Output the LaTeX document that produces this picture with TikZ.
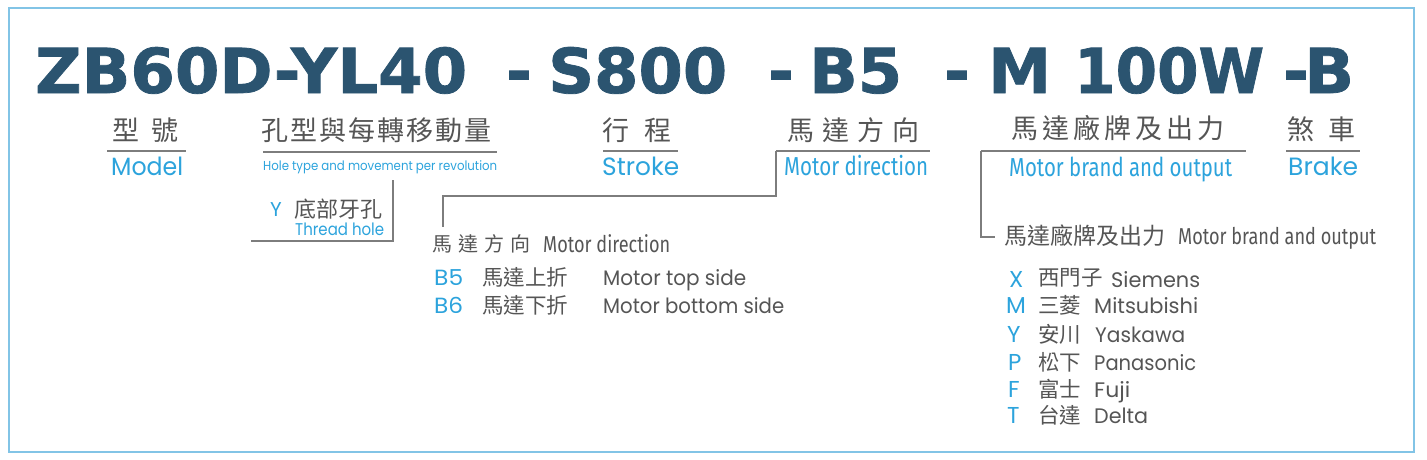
\documentclass[tikz,border=0pt]{standalone}
\usepackage{graphicx}
\usepackage{fontspec}
\newfontfamily\ttlf[FakeBold=1.2]{DejaVu Sans Bold}
\newfontfamily\geo{Poppins}
\newfontfamily\cond{Fira Sans}
\newfontfamily\cjk{Noto Sans CJK TC}
\definecolor{titleblue}{RGB}{43,84,112}
\definecolor{lblue}{RGB}{44,163,220}
\definecolor{txtgray}{RGB}{85,85,85}
\definecolor{linegray}{RGB}{125,125,125}
\definecolor{framecol}{RGB}{130,196,230}
\newcommand\fitw[2]{\resizebox{#1pt}{\height}{#2}}
\newcommand\cjkgap[1]{\hspace{#1pt}}
\tikzset{
  frame/.style={draw=framecol, line width=1.5pt},
  ttl/.style={inner sep=0, anchor=base west, text=titleblue, font=\ttlf\fontsize{62}{62}\selectfont},
  hz/.style={inner sep=0, anchor=west, text=txtgray, font=\cjk\fontsize{27}{27}\selectfont},
  hzs/.style={inner sep=0, anchor=west, text=txtgray, font=\cjk\fontsize{21.5}{22}\selectfont},
  en/.style={inner sep=0, anchor=base west, text=lblue, font=\geo\fontsize{25}{25}\selectfont},
  ens/.style={inner sep=0, anchor=base west, text=lblue, font=\geo\fontsize{13}{13}\selectfont},
  enc/.style={inner sep=0, anchor=base west, text=lblue, font=\cond\fontsize{26}{26}\selectfont},
  code/.style={inner sep=0, anchor=base west, text=lblue, font=\geo\fontsize{22}{22}\selectfont},
  gen/.style={inner sep=0, anchor=base west, text=txtgray, font=\geo\fontsize{21}{21}\selectfont},
  genc/.style={inner sep=0, anchor=base west, text=txtgray, font=\cond\fontsize{23}{23}\selectfont},
  rule/.style={draw=linegray, line width=1.1pt},
}
\begin{document}
\begin{tikzpicture}[x=1pt,y=-1pt]
\useasboundingbox (0,0) rectangle (1427,460);
\draw[frame] (9,8) rectangle (1414,452);

% title
\node[ttl] (tA) at (35,93) {\fitw{432}{ZB60D-YL40}};
\node[ttl] (d1) at (506,93) {-};
\node[ttl] (tS) at (548,93) {\fitw{179}{S800}};
\node[ttl] (d2) at (768,93) {-};
\node[ttl] (tB) at (809,93) {\fitw{93}{B5}};
\node[ttl] (d3) at (944,93) {-};
\node[ttl] (tM) at (988,93) {\fitw{63}{M}};
\node[ttl] (tW) at (1074,93) {\fitw{190}{100W}};
\node[ttl] (d4) at (1283,93) {-};
\node[ttl] (tK) at (1304,93) {\fitw{50}{B}};

% headings
\node[hz] (h1) at (112,130) {型\cjkgap{12}號};
\node[hz] (h2) at (261,130) {孔\cjkgap{2}型\cjkgap{2}與\cjkgap{2}每\cjkgap{2}轉\cjkgap{2}移\cjkgap{2}動\cjkgap{2}量};
\node[hz] (h3) at (602,130) {行\cjkgap{15}程};
\node[hz] (h4) at (787,130) {馬\cjkgap{8}達\cjkgap{8}方\cjkgap{8}向};
\node[hz] (h5) at (1011,128) {馬\cjkgap{4}達\cjkgap{4}廠\cjkgap{4}牌\cjkgap{4}及\cjkgap{4}出\cjkgap{4}力};
\node[hz] (h6) at (1287,129) {煞\cjkgap{14}車};

% underlines
\coordinate (u1a) at (107,151); \coordinate (u1b) at (186,151);
\coordinate (u2a) at (263,152); \coordinate (u2b) at (497,152);
\coordinate (u3a) at (603,151); \coordinate (u3b) at (678,151);
\coordinate (u4a) at (776,151); \coordinate (u4b) at (930,151);
\coordinate (u5a) at (981,151); \coordinate (u5b) at (1246,151);
\coordinate (u6a) at (1286,151); \coordinate (u6b) at (1360,151);
\draw[rule] (u1a) -- (u1b);
\draw[rule] (u2a) -- (u2b);
\draw[rule] (u3a) -- (u3b);
\draw[rule] (u4a) -- (u4b);
\draw[rule] (u5a) -- (u5b);
\draw[rule] (u6a) -- (u6b);

% english labels
\node[en] (e1) at (111,175) {\fitw{72}{Model}};
\node[ens] (e2) at (263,170) {\fitw{234}{Hole type and movement per revolution}};
\node[en] (e3) at (602,175) {\fitw{77}{Stroke}};
\node[enc] (e4) at (784,175) {\fitw{144}{Motor direction}};
\node[enc] (e5) at (1009,176) {\fitw{223}{Motor brand and output}};
\node[en] (e6) at (1288,175) {\fitw{70}{Brake}};

% thread hole
\node[code, font=\geo\fontsize{20}{20}\selectfont] (yc) at (270,216) {Y};
\node[hzs, font=\cjk\fontsize{22}{22}\selectfont] (yz) at (294,209) {底部牙孔};
\node[en, font=\geo\fontsize{17}{17}\selectfont] (ye) at (295,235) {\fitw{89}{Thread hole}};
\coordinate (b1a) at (393,180); \coordinate (b1b) at (251,241);
\draw[rule] (b1a) |- (b1b);

% motor direction bracket
\coordinate (b2a) at (443,227);
\coordinate (b2m) at (443,196);
\draw[rule] (u4a) |- (b2m) -- (b2a);

\node[hzs, font=\cjk\fontsize{20}{20}\selectfont] (md) at (432,244) {馬\cjkgap{6}達\cjkgap{6}方\cjkgap{6}向};
\node[genc] (mde) at (543,252) {\fitw{127}{Motor direction}};
\node[code] (b5) at (434,285) {\fitw{29}{B5}};
\node[hzs] (b5z) at (482,277) {馬達上折};
\node[gen] (b5e) at (603,285) {\fitw{143}{Motor top side}};
\node[code] (b6) at (434,313) {\fitw{29}{B6}};
\node[hzs] (b6z) at (482,305) {馬達下折};
\node[gen] (b6e) at (603,313) {\fitw{181}{Motor bottom side}};

% motor brand bracket
\coordinate (b3a) at (995,237);
\draw[rule] (u5a) |- (b3a);
\node[hzs, font=\cjk\fontsize{23}{23}\selectfont] (mb) at (1004,236) {馬達廠牌及出力};
\node[genc] (mbe) at (1178,244) {\fitw{198}{Motor brand and output}};

\node[code, font=\geo\fontsize{23}{23}\selectfont] (cx) at (1009,287) {X};
\node[hzs] (zx) at (1038,278) {西門子};
\node[gen] (ex) at (1111,287) {\fitw{89}{Siemens}};
\node[code, font=\geo\fontsize{23}{23}\selectfont] (cm) at (1006,313) {M};
\node[hzs] (zm) at (1038,305) {三菱};
\node[gen] (em) at (1094,313) {\fitw{104}{Mitsubishi}};
\node[code, font=\geo\fontsize{23}{23}\selectfont] (cy) at (1007,342) {Y};
\node[hzs] (zy) at (1038,334) {安川};
\node[gen] (ey) at (1095,342) {\fitw{90}{Yaskawa}};
\node[code, font=\geo\fontsize{23}{23}\selectfont] (cp) at (1008,370) {P};
\node[hzs] (zp) at (1038,362) {松下};
\node[gen] (ep) at (1094,370) {\fitw{102}{Panasonic}};
\node[code, font=\geo\fontsize{23}{23}\selectfont] (cf) at (1008,397) {F};
\node[hzs] (zf) at (1038,389) {富士};
\node[gen] (ef) at (1094,397) {\fitw{36}{Fuji}};
\node[code, font=\geo\fontsize{23}{23}\selectfont] (ct) at (1007,423) {T};
\node[hzs] (zt) at (1038,415) {台達};
\node[gen] (et) at (1094,423) {\fitw{54}{Delta}};
\end{tikzpicture}
\end{document}
